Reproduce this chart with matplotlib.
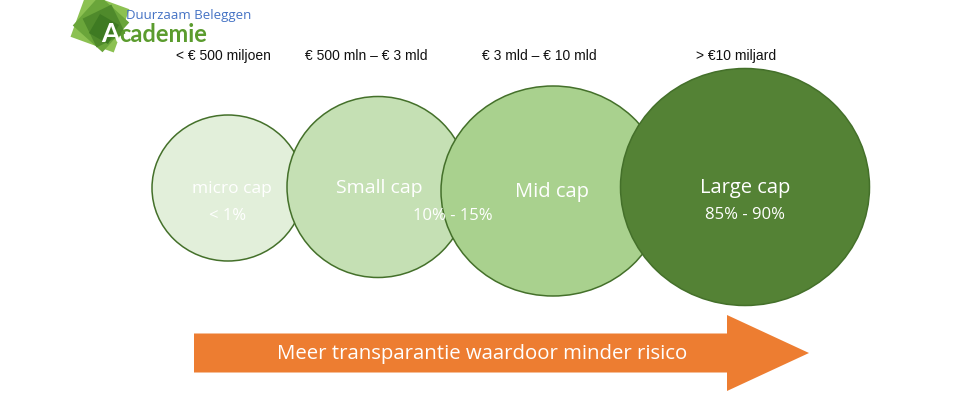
import matplotlib
matplotlib.use("Agg")
import matplotlib.pyplot as plt
from matplotlib.patches import Ellipse, FancyArrow, Rectangle
import matplotlib.transforms as mtransforms

# ---- data ----
categories = ["micro cap", "Small cap", "Mid cap", "Large cap"]
shares = ["< 1%", "10% - 15%", "", "85% - 90%"]
ranges = ["< \u20ac 500 miljoen", "\u20ac 500 mln \u2013 \u20ac 3 mld",
          "\u20ac 3 mld \u2013 \u20ac 10 mld", "> \u20ac10 miljard"]
arrow_text = "Meer transparantie waardoor minder risico"

# ---- layout (pixels) ----
centers = [(228, 189), (378, 188), (553, 192), (745, 188)]
sizes = [(152, 146), (182, 181), (224, 210), (249, 237)]
fills = ["#E2EFDA", "#C5E0B4", "#A9D18E", "#548235"]
range_x = [223, 366, 539, 736]
share_pos = [(228, 216), (453, 216), None, (745, 215)]
name_pos = [(232, 189), (379, 188), (552, 192), (745, 188)]

fig = plt.figure(figsize=(9.68, 4.06), dpi=100)
ax = fig.add_axes([0, 0, 1, 1])
ax.set_xlim(0, 968)
ax.set_ylim(406, 0)
ax.axis("off")

for i, (c, s, f) in enumerate(zip(centers, sizes, fills)):
    ax.add_patch(Ellipse(c, s[0], s[1], facecolor=f, edgecolor="#44702A",
                         linewidth=1.1, zorder=2 + i))

txt_font = ["Open Sans", "DejaVu Sans"]
name_fs = [12.5, 14, 14.5, 14.5]
share_fs = [12, 12, 12, 12]
for i, name in enumerate(categories):
    ax.text(name_pos[i][0], name_pos[i][1], name, ha="center", va="center",
            color="white", fontsize=name_fs[i], family=txt_font, zorder=10)
    if shares[i]:
        ax.text(share_pos[i][0], share_pos[i][1], shares[i], ha="center",
                va="center", color="white", fontsize=share_fs[i],
                family=txt_font, zorder=10)

for x, r in zip(range_x, ranges):
    ax.text(x, 56, r, ha="center", va="center", fontsize=10,
            family=["Liberation Sans", "DejaVu Sans"], color="#111111")

# arrow
ax.add_patch(FancyArrow(194, 354, 615, 0, width=39, head_width=76,
                        head_length=82, length_includes_head=True,
                        facecolor="#ED7D31", edgecolor="none", zorder=5))
ax.text(482, 354, arrow_text, ha="center", va="center", color="white",
        fontsize=14.7, family=txt_font, zorder=10)

# logo
logo_sq = [((100, 24), 46, 20, "#8CC152"), ((101, 25), 40, 42, "#6AA53A"),
           ((104, 27), 32, 64, "#4F8A2B"), ((104, 30), 22, 30, "#3E7A22")]
for (cx, cy), w, ang, col in logo_sq:
    r = Rectangle((cx - w / 2, cy - w / 2), w, w, facecolor=col,
                  edgecolor="none", zorder=3)
    t = mtransforms.Affine2D().rotate_deg_around(cx, cy, ang) + ax.transData
    r.set_transform(t)
    ax.add_patch(r)
ax.text(126, 15, "Duurzaam Beleggen", ha="left", va="center", fontsize=9.5,
        color="#4472C4", family=["Liberation Sans Narrow", "Open Sans", "DejaVu Sans"], zorder=6)
ax.text(101, 34, "A", ha="left", va="center", fontsize=19, fontweight="bold",
        color="white", family=["Lato", "DejaVu Sans"], zorder=6)
ax.text(119, 34, "cademie", ha="left", va="center", fontsize=17,
        fontweight="bold", color="#5B9C2E",
        family=["Lato", "DejaVu Sans"], zorder=6)

fig.savefig("out.png", dpi=100, facecolor="white")
